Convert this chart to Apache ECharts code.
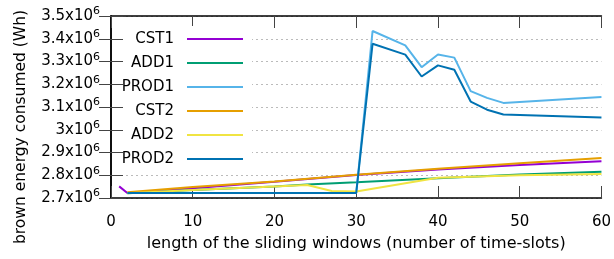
<!DOCTYPE html>
<html lang="en">
<head>
<meta charset="UTF-8">
<title>brown energy</title>
<script src="https://cdn.jsdelivr.net/npm/echarts@6/dist/echarts.min.js"></script>
<style>
  html, body { margin: 0; padding: 0; background: #fff; }
  #main { width: 614px; height: 259px; }
</style>
</head>
<body>
<div id="main"></div>
<script>
// data (values in units of 10^6 Wh)
var seriesNames = ['CST1', 'ADD1', 'PROD1', 'CST2', 'ADD2', 'PROD2'];
var seriesColors = ['#9400d3', '#009e73', '#56b4e9', '#e69f00', '#f0e442', '#0072b2'];

var cst1X = [1, 2, 10, 20, 30, 40, 50, 60];
var cst1Y = [2.751, 2.722, 2.743, 2.771, 2.801, 2.825, 2.845, 2.861];

var add1X = [2, 10, 20, 24, 30, 40, 50, 60];
var add1Y = [2.721, 2.735, 2.751, 2.759, 2.769, 2.787, 2.803, 2.815];

var prod1X = [2, 30, 32, 36, 38, 40, 42, 44, 46, 48, 60];
var prod1Y = [2.722, 2.722, 3.434, 3.371, 3.275, 3.331, 3.317, 3.170, 3.140, 3.118, 3.144];

var cst2X = [2, 10, 20, 30, 40, 50, 60];
var cst2Y = [2.725, 2.748, 2.773, 2.802, 2.829, 2.853, 2.876];

var add2X = [2, 10, 20, 24, 27, 30, 40, 50, 60];
var add2Y = [2.721, 2.735, 2.751, 2.757, 2.731, 2.729, 2.789, 2.800, 2.806];

var prod2X = [2, 30, 32, 36, 38, 40, 42, 44, 46, 48, 60];
var prod2Y = [2.722, 2.722, 3.378, 3.330, 3.234, 3.283, 3.264, 3.124, 3.088, 3.067, 3.054];

function pairs(xs, ys) {
    var out = [];
    for (var i = 0; i < xs.length; i++) out.push([xs[i], ys[i] * 1e6]);
    return out;
}

var allX = [cst1X, add1X, prod1X, cst2X, add2X, prod2X];
var allY = [cst1Y, add1Y, prod1Y, cst2Y, add2Y, prod2Y];

var font = 'DejaVu Sans';
var legendRows = [31, 55, 79, 103, 127, 151];

var series = [];
var legends = [];
for (var i = 0; i < seriesNames.length; i++) {
    series.push({
        name: seriesNames[i],
        type: 'line',
        symbol: 'none',
        data: pairs(allX[i], allY[i]),
        lineStyle: { color: seriesColors[i], width: 2 },
        itemStyle: { color: seriesColors[i] },
        z: 2 + i * 0.01
    });
    legends.push({
        data: [seriesNames[i]],
        right: 370,
        top: legendRows[i],
        align: 'right',
        padding: 0,
        itemWidth: 56,
        itemHeight: 16,
        selectedMode: false,
        itemStyle: { opacity: 0 },
        lineStyle: { width: 2 },
        textStyle: { fontFamily: font, fontSize: 15, color: '#000', lineHeight: 16, padding: [0, 8, 0, 0] }
    });
}

var myChart = echarts.init(document.getElementById('main'));

var option = {
    animation: false,
    grid: { left: 111, right: 10, top: 16, bottom: 61 },
    legend: legends,
    graphic: [{
        type: 'rect',
        z: 1,
        shape: { x: 124, y: 26, width: 128, height: 142 },
        style: { fill: '#fff' }
    }],
    xAxis: [{
        type: 'value',
        min: 0, max: 60, interval: 10,
        name: 'length of the sliding windows (number of time-slots)',
        nameLocation: 'middle',
        nameGap: 38,
        nameTextStyle: { fontFamily: font, fontSize: 16, color: '#000' },
        axisLine: { show: true, lineStyle: { color: '#000', width: 1.5 } },
        axisTick: { show: true, inside: true, length: 12, lineStyle: { color: '#444' } },
        axisLabel: { fontFamily: font, fontSize: 15, color: '#000', margin: 17 },
        splitLine: { show: false }
    }, {
        type: 'value',
        position: 'top',
        min: 0, max: 60, interval: 10,
        axisLine: { show: true, lineStyle: { color: '#000', width: 1.5 } },
        axisTick: { show: true, inside: true, length: 12, lineStyle: { color: '#444' } },
        axisLabel: { show: false },
        splitLine: { show: false }
    }],
    yAxis: [{
        type: 'value',
        min: 2.7e6, max: 3.5e6, interval: 1e5,
        name: 'brown energy consumed (Wh)',
        nameLocation: 'middle',
        nameGap: 82,
        nameTextStyle: { fontFamily: font, fontSize: 15.5, color: '#000', padding: [0, 40, 0, 0] },
        axisLine: { show: true, lineStyle: { color: '#000', width: 1.5 } },
        axisTick: { show: true, inside: true, length: 12, lineStyle: { color: '#444' } },
        axisLabel: {
            margin: 11,
            formatter: function (v) {
                var m = String(parseFloat((v / 1e6).toFixed(1)));
                return '{a|' + m + 'x10}{b|6}';
            },
            rich: {
                a: { fontFamily: font, fontSize: 15, color: '#000' },
                b: { fontFamily: font, fontSize: 11, color: '#000', padding: [0, 0, 9, 0] }
            }
        },
        splitLine: {
            show: true,
            lineStyle: { color: '#bbb', width: 1, type: [2, 3] }
        }
    }, {
        type: 'value',
        position: 'right',
        min: 2.7e6, max: 3.5e6, interval: 1e5,
        axisLine: { show: true, lineStyle: { color: '#000', width: 1.5 } },
        axisTick: { show: true, inside: true, length: 12, lineStyle: { color: '#444' } },
        axisLabel: { show: false },
        splitLine: { show: false }
    }],
    series: series
};

myChart.setOption(option);
</script>
</body>
</html>
